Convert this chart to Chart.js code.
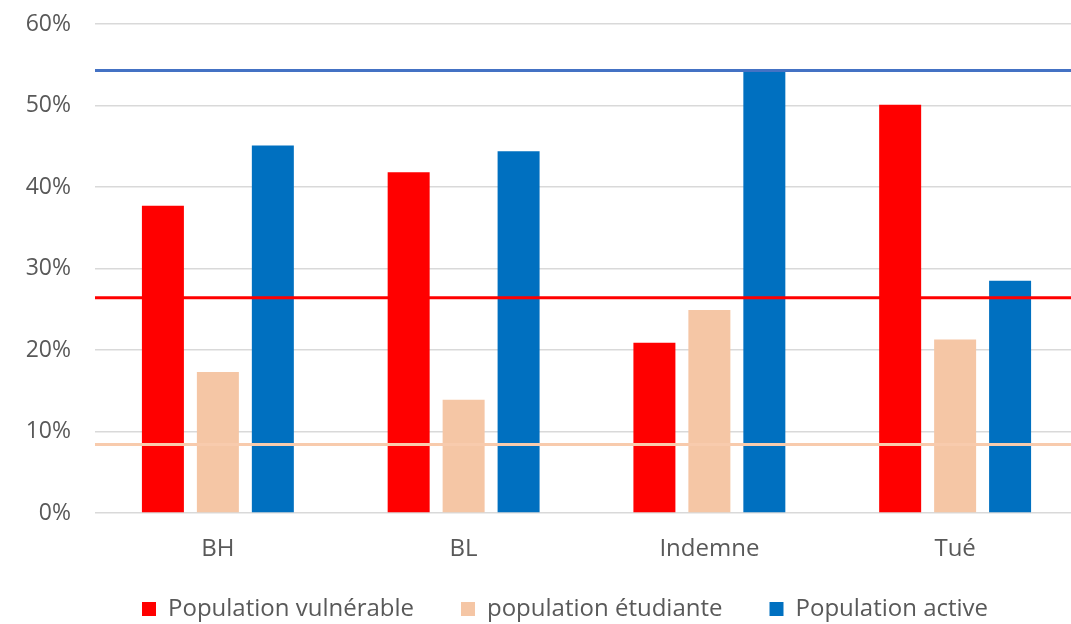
<!DOCTYPE html>
<html lang="fr">
<head>
<meta charset="utf-8">
<title>Répartition des populations</title>
<script src="https://cdn.jsdelivr.net/npm/chart.js@4/dist/chart.umd.min.js"></script>
<style>
  html, body { margin: 0; padding: 0; background: #ffffff; overflow: hidden; }
  #wrap { width: 1078px; height: 624px; }
</style>
</head>
<body>
<div id="wrap"><canvas id="chart" width="1078" height="624"></canvas></div>
<script>
// Catégories et valeurs (en %)
const categories = ['BH', 'BL', 'Indemne', 'Tué'];
const seriesNames = ['Population vulnérable', 'population étudiante', 'Population active'];
const vulnerable = [37.7, 41.8, 20.9, 50.1];
const etudiante  = [17.3, 13.9, 24.9, 21.3];
const active     = [45.1, 44.4, 54.15, 28.5];

// Niveaux de référence (lignes horizontales)
const refVulnerable = 26.4;
const refEtudiante  = 8.4;
const refActive     = 54.3;

// Graduations de l'axe vertical
const yTicks = [0, 10, 20, 30, 40, 50, 60];

const colors = {
  vulnerable: '#FF0000',
  etudiante: '#F5C6A5',
  active: '#0070C0',
  lineVulnerable: '#FF0000',
  lineEtudiante: '#F8CBAD',
  lineActive: '#4472C4',
  text: '#595959',
  grid: '#D9D9D9'
};

const FONT = "'Open Sans', 'Noto Sans', sans-serif";

// Lignes de référence tracées sur toute la largeur, au-dessus des barres
const refLinesPlugin = {
  id: 'refLines',
  afterDatasetsDraw(chart) {
    const { ctx, chartArea, scales } = chart;
    const lines = [
      { v: refActive, c: colors.lineActive },
      { v: refVulnerable, c: colors.lineVulnerable },
      { v: refEtudiante, c: colors.lineEtudiante }
    ];
    ctx.save();
    ctx.lineWidth = 3;
    lines.forEach(l => {
      const y = scales.y.getPixelForValue(l.v);
      ctx.strokeStyle = l.c;
      ctx.beginPath();
      ctx.moveTo(chartArea.left, y);
      ctx.lineTo(chart.width, y);
      ctx.stroke();
    });
    ctx.restore();
  }
};

// L'axe des catégories est compact pour rapprocher la légende ;
// on agrandit sa zone de dessin pour que les libellés ne soient pas rognés.
const labelRoomPlugin = {
  id: 'labelRoom',
  afterLayout(chart) {
    const x = chart.scales.x;
    x.bottom = chart.height;
  }
};

const barOpts = { borderWidth: 0, categoryPercentage: 0.671, barPercentage: 0.764 };

new Chart(document.getElementById('chart'), {
  type: 'bar',
  data: {
    labels: categories,
    datasets: [
      Object.assign({ label: seriesNames[0], data: vulnerable, backgroundColor: colors.vulnerable }, barOpts),
      Object.assign({ label: seriesNames[1], data: etudiante, backgroundColor: colors.etudiante }, barOpts),
      Object.assign({ label: seriesNames[2], data: active, backgroundColor: colors.active }, barOpts)
    ]
  },
  options: {
    responsive: false,
    animation: false,
    layout: { padding: { left: 0, right: 0, top: 24, bottom: -7 } },
    scales: {
      x: {
        grid: { display: false, drawTicks: false },
        border: { display: false },
        ticks: { color: colors.text, font: { family: FONT, size: 24 }, padding: 22 },
        afterFit(scale) { scale.height = 37; }
      },
      y: {
        min: 0,
        max: 60,
        afterBuildTicks(scale) { scale.ticks = yTicks.map(v => ({ value: v })); },
        grid: { color: colors.grid, lineWidth: 1.5, drawTicks: false },
        border: { display: false },
        ticks: {
          color: colors.text,
          font: { family: FONT, size: 23 },
          padding: 24,
          callback: v => v + '%'
        },
        afterFit(scale) {
          scale.width = 95;
          scale.paddingTop = 0;
          scale.paddingBottom = 0;
        }
      }
    },
    plugins: {
      legend: {
        position: 'bottom',
        align: 'start',
        fullSize: false,
        labels: {
          color: colors.text,
          font: { family: FONT, size: 24 },
          boxWidth: 14,
          boxHeight: 14,
          padding: 47
        }
      },
      tooltip: { enabled: false }
    }
  },
  plugins: [refLinesPlugin, labelRoomPlugin]
});
</script>
</body>
</html>
